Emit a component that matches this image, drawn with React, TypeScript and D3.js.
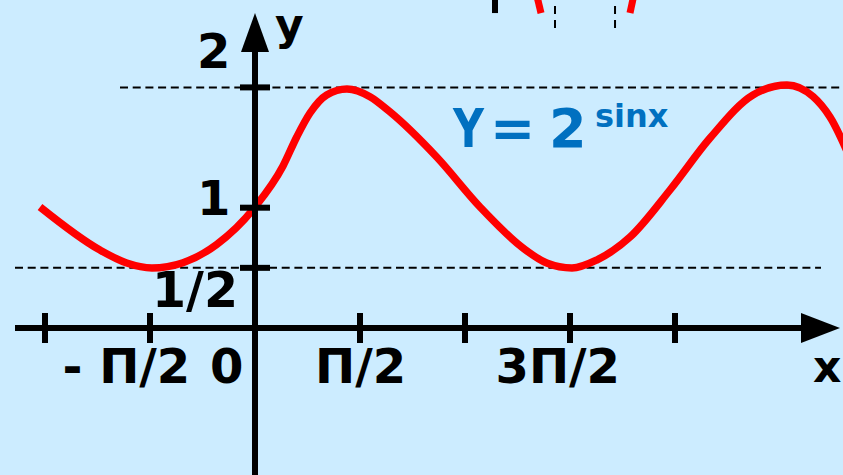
import React from "react";
import * as d3 from "d3";

// Curve y = 2^sin x (x in radians, y value)
const curveX = [
  -3.216, -2.319, -1.919, -1.541, -1.077, -0.573, 0.0, 0.419, 0.624, 0.823, 1.072, 1.376,
  1.72, 2.02, 2.718, 3.366, 4.009, 4.364, 4.742, 5.112, 5.61, 6.208, 6.807, 7.45,
  7.959, 8.348, 8.602, 8.976,
];
const curveY = [
  1.006, 0.648, 0.54, 0.499, 0.543, 0.695, 1.006, 1.347, 1.588, 1.787, 1.937, 1.987,
  1.923, 1.796, 1.421, 1.006, 0.665, 0.54, 0.499, 0.565, 0.756, 1.147, 1.579, 1.937,
  2.02, 1.924, 1.754, 1.313,
];

const xTickValues = [-Math.PI, -Math.PI / 2, 0, Math.PI / 2, Math.PI, (3 * Math.PI) / 2, 2 * Math.PI];
const xLabelValues = [-Math.PI / 2, 0, Math.PI / 2, (3 * Math.PI) / 2];
const xLabelTexts = ["- П/2", "0", "П/2", "3П/2"];
const yTickValues = [0.5, 1, 2];
const yLabelTexts = ["1/2", "1", "2"];
const guideValues = [2, 0.5];

// fragments of another drawing cut off at the top edge (data units)
const fragRedX = [[4.2, 4.279], [5.68, 5.61]];
const fragRedY = [[2.8, 2.618], [2.8, 2.618]];
const fragBarX = [3.59];
const fragDashX = [4.488, 5.386];

const W = 843;
const H = 475;

export default function App() {
  const x = d3.scaleLinear().domain([0, Math.PI / 2]).range([255, 360]);
  const y = d3.scaleLinear().domain([0, 2]).range([328, 87.4]);

  const pts: [number, number][] = curveX.map((v, i) => [v, curveY[i]]);
  const line = d3
    .line<[number, number]>()
    .x((d) => x(d[0]))
    .y((d) => y(d[1]))
    .curve(d3.curveMonotoneX);

  const font = "'DejaVu Sans', Verdana, sans-serif";
  const x0 = x(0);
  const y0 = y(0);

  const xLabelDx = [-87.5, -45, -45, -74.5];
  const yLabelPos = [
    { x: 152, dy: 39 },
    { x: 197, dy: 7 },
    { x: 197, dy: -19 },
  ];
  const guideRanges = [
    [120, 843],
    [15, 821],
  ];

  return (
    <svg
      width={W}
      height={H}
      style={{ position: "absolute", left: 0, top: 0, display: "block" }}
      fontFamily={font}
    >
      <rect x={0} y={0} width={W} height={H} fill="#ccecff" />

      {/* top fragments */}
      {fragBarX.map((v, i) => (
        <line key={"b" + i} x1={x(v)} x2={x(v)} y1={y(2.8)} y2={y(2.618)} stroke="#000" strokeWidth={6} />
      ))}
      {fragDashX.map((v, i) => (
        <line
          key={"d" + i}
          x1={x(v)}
          x2={x(v)}
          y1={y(2.677)}
          y2={y(2.494)}
          stroke="#000"
          strokeWidth={2}
          strokeDasharray="8,6"
        />
      ))}
      {fragRedX.map((xs, i) => (
        <line
          key={"r" + i}
          x1={x(xs[0])}
          x2={x(xs[1])}
          y1={y(fragRedY[i][0])}
          y2={y(fragRedY[i][1])}
          stroke="#ff0000"
          strokeWidth={7}
        />
      ))}

      {/* dashed guides */}
      {guideValues.map((v, i) => (
        <line
          key={"g" + i}
          x1={guideRanges[i][0]}
          x2={guideRanges[i][1]}
          y1={y(v)}
          y2={y(v)}
          stroke="#000"
          strokeWidth={2}
          strokeDasharray="8,4.7"
        />
      ))}

      {/* curve */}
      <path d={line(pts) || ""} fill="none" stroke="#ff0000" strokeWidth={7.5} strokeLinejoin="round" />

      {/* axes */}
      <line x1={15} x2={802} y1={y0} y2={y0} stroke="#000" strokeWidth={6} />
      <polygon points={`801,${y0 - 15} 840,${y0} 801,${y0 + 15}`} fill="#000" />
      <line x1={x0} x2={x0} y1={H} y2={51} stroke="#000" strokeWidth={6} />
      <polygon points={`${x0 - 14},52 ${x0},13 ${x0 + 14},52`} fill="#000" />

      {xTickValues.map((v, i) => (
        <line key={"xt" + i} x1={x(v)} x2={x(v)} y1={y0 - 15} y2={y0 + 15} stroke="#000" strokeWidth={6} />
      ))}
      {yTickValues.map((v, i) => (
        <line key={"yt" + i} x1={x0 - 15} x2={x0 + 15} y1={y(v)} y2={y(v)} stroke="#000" strokeWidth={6} />
      ))}

      {/* labels */}
      {xLabelValues.map((v, i) => (
        <text key={"xl" + i} x={x(v) + xLabelDx[i]} y={383} fontSize={48} fontWeight="bold" fill="#000">
          {xLabelTexts[i]}
        </text>
      ))}
      {yTickValues.map((v, i) => (
        <text key={"yl" + i} x={yLabelPos[i].x} y={y(v) + yLabelPos[i].dy} fontSize={i === 0 ? 49 : 48} fontWeight="bold" fill="#000">
          {yLabelTexts[i]}
        </text>
      ))}
      <text x={813} y={382} fontSize={44} fontWeight="bold" fill="#000">x</text>
      <text x={275} y={40} fontSize={44} fontWeight="bold" fill="#000">y</text>

      {/* formula */}
      <text y={147} fontSize={54} fontWeight="bold" fill="#0070c0">
        <tspan x={453} textLength={31} lengthAdjust="spacingAndGlyphs">Y</tspan>
        <tspan x={490}>=</tspan>
        <tspan x={549}>2</tspan>
      </text>
      <text x={595} y={127} fontSize={32} fontWeight="bold" fill="#0070c0">sinx</text>
    </svg>
  );
}
